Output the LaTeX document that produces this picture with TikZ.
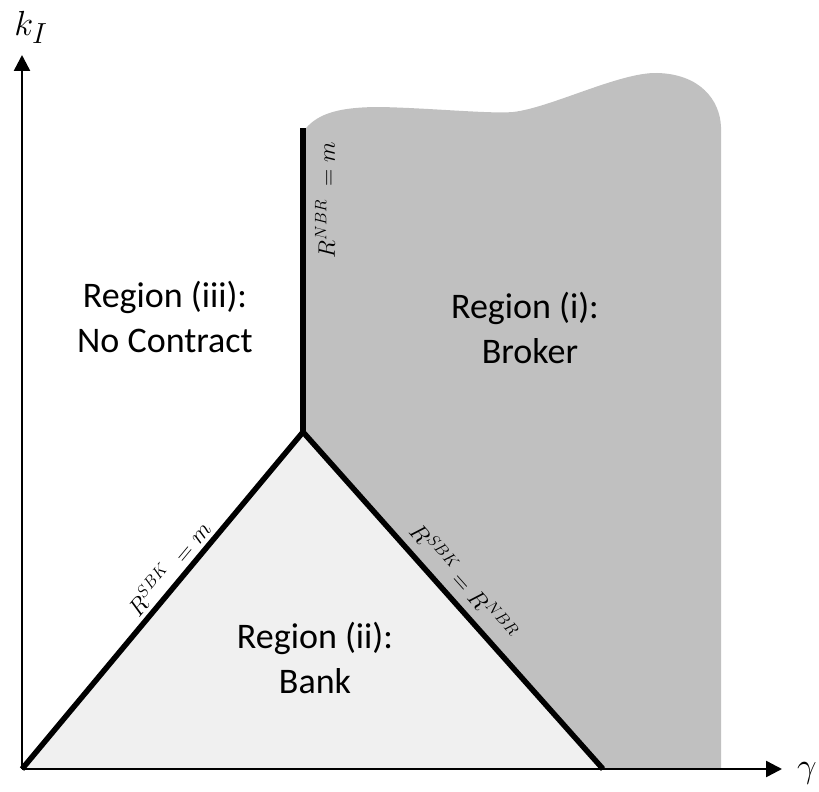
\documentclass[tikz,border=0pt]{standalone}
\usepackage{fontspec}
\setmainfont{Carlito}
\usetikzlibrary{arrows.meta}
\definecolor{brokergray}{RGB}{192,192,192}
\definecolor{bankgray}{RGB}{240,240,240}
\begin{document}
\begin{tikzpicture}[x=1pt,y=-1pt,
  axis/.style={line width=2.5pt,-{Triangle[width=16pt,length=16pt]}},
  boundary/.style={line width=5.5pt,line join=miter},
  region/.style={font=\fontsize{36}{45}\selectfont,anchor=base,inner sep=0pt},
  curvelabel/.style={font=\fontsize{20.74}{25}\selectfont,inner sep=0pt,scale=1.15},
  axislabel/.style={font=\fontsize{24.88}{30}\selectfont,inner sep=0pt,scale=1.4}]
\useasboundingbox (0,0) rectangle (819,792);
\coordinate (O) at (22,769);
\coordinate (T) at (303,432);
\coordinate (B) at (603,769);
\coordinate (V) at (303,128);
\coordinate (Ytip) at (22,55);
\coordinate (Xtip) at (782,769);
% broker region
\fill[brokergray] (T) -- (303,132) .. controls (315,115) and (335,107) .. (380,107)
  .. controls (430,108) and (490,114) .. (513,112)
  .. controls (550,108) and (620,72) .. (657,73)
  .. controls (700,74) and (720,100) .. (721,127) -- (721,769) -- (B) -- cycle;
% bank region
\fill[bankgray] (O) -- (T) -- (B) -- cycle;
% axes
\draw[axis] (O) -- (Ytip);
\draw[axis] (O) -- (Xtip);
% boundaries
\draw[boundary] (O) -- (T) -- (B);
\draw[boundary] (V) -- (T);
% axis labels
\node[axislabel] (kI) at (31,27) {$k_I$};
\node[axislabel] (gam) at (807,773) {$\gamma$};
% region labels
\node[region] (r3a) at (165,307) {Region (iii):};
\node[region] (r3b) at (165,352) {No Contract};
\node[region] (r1a) at (525,318) {Region (i):};
\node[region] (r1b) at (530,363) {Broker};
\node[region] (r2a) at (315,648) {Region (ii):};
\node[region] (r2b) at (315,693) {Bank};
% boundary labels
\node[curvelabel,rotate=50.3] (lblA) at (168,568) {$R^{SBK}\;=m$};
\node[curvelabel,rotate=90] (lblB) at (325,200) {$R^{NBR}\;=m$};
\node[curvelabel,rotate=-48.4] (lblC) at (464,581) {$R^{SBK}=R^{NBR}$};
\end{tikzpicture}
\end{document}
